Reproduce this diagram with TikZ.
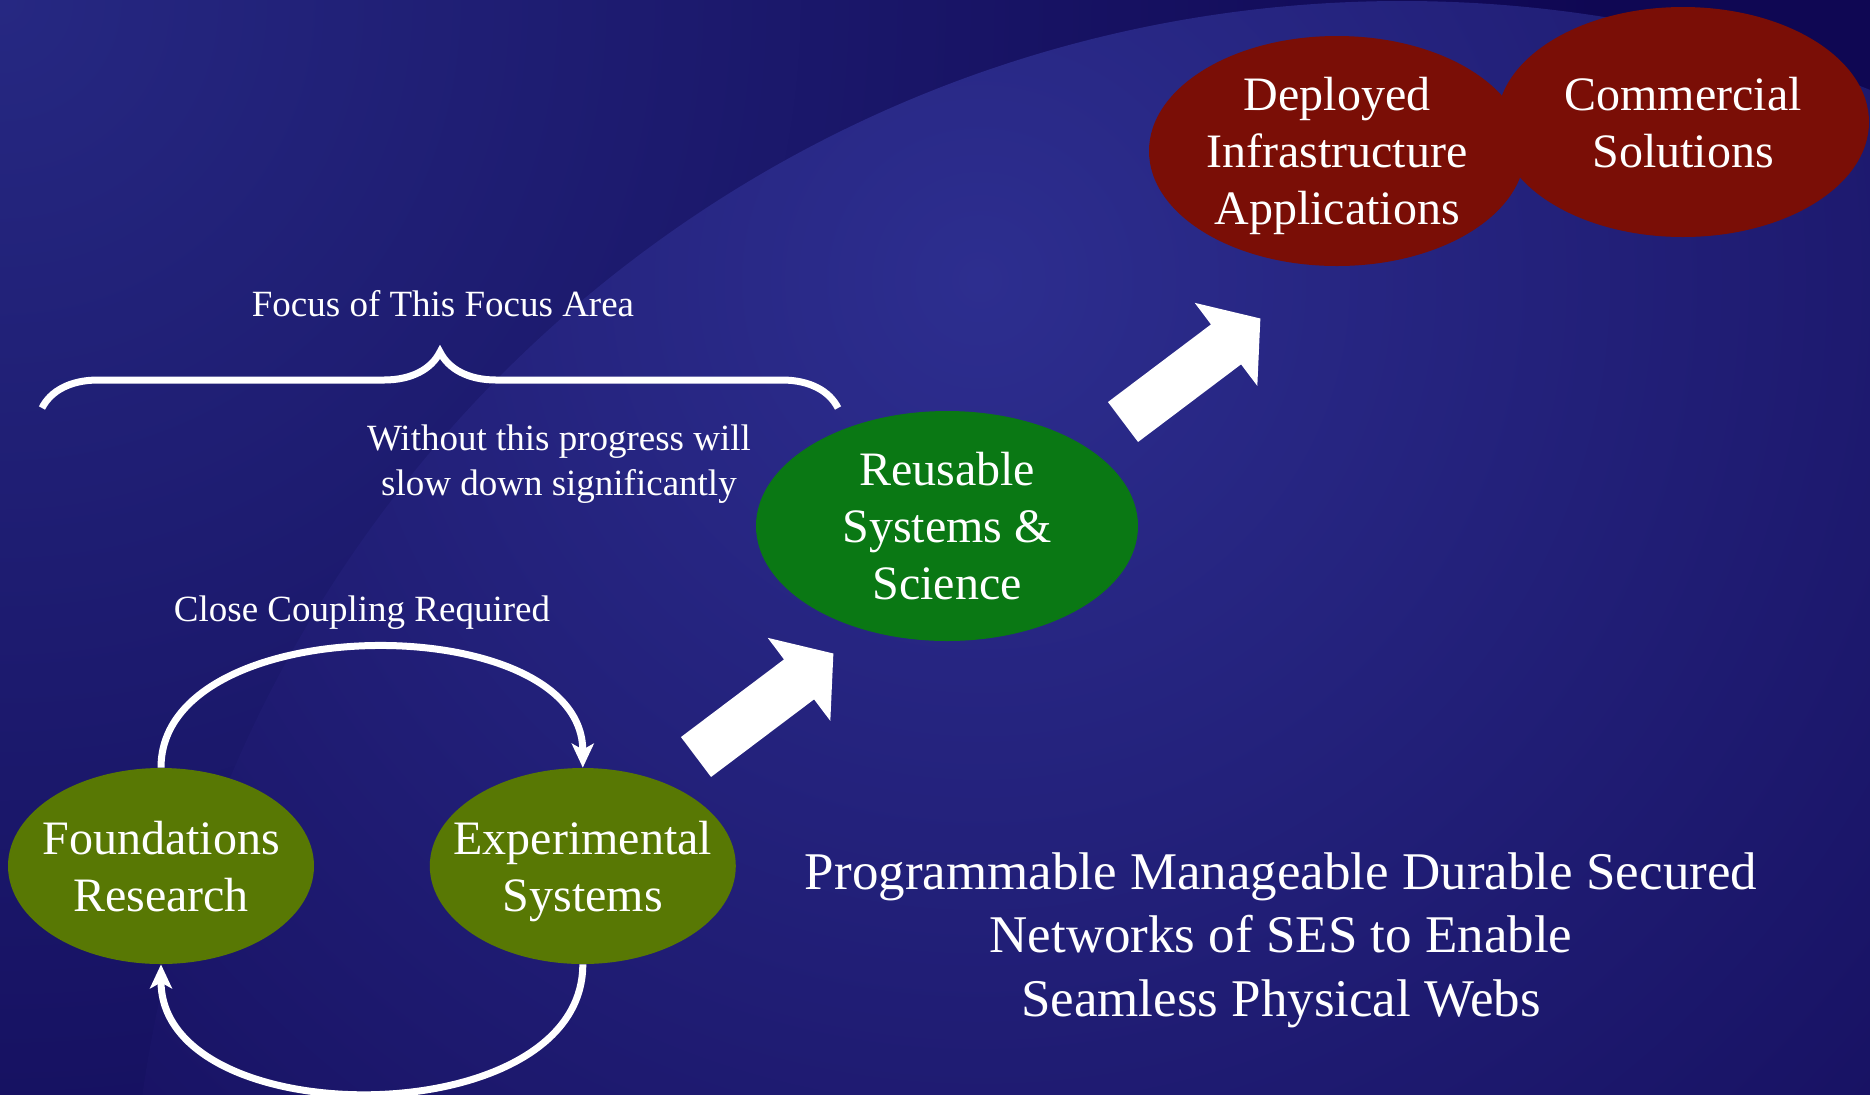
\documentclass[tikz,border=0pt]{standalone}
\usepackage{fontspec}
\setmainfont{Liberation Serif}
\usepackage{tikz}
\usetikzlibrary{decorations.pathreplacing}
\usetikzlibrary{positioning}
\usetikzlibrary{shapes.geometric}
\usetikzlibrary{arrows.meta}
\usetikzlibrary{calc}
\definecolor{bgdark}{RGB}{15,7,83}
\definecolor{bgcorner}{RGB}{38,40,130}
\definecolor{globelight}{RGB}{45,46,143}
\definecolor{globedark}{RGB}{16,8,84}
\definecolor{olivegreen}{RGB}{88,120,4}
\definecolor{leafgreen}{RGB}{10,120,20}
\definecolor{darkred}{RGB}{122,14,6}
\tikzstyle{loopline} = [draw=white, line width=3.5pt, -{Stealth[length=12pt, width=11pt, inset=3pt]}]

\begin{document}
\begin{tikzpicture}[x=0.5pt, y=-0.5pt,
				blob/.style={ellipse, inner xsep=-15pt, inner ysep=0pt, text depth=0pt, text=white, align=center, font=\fontsize{24}{28.5}\selectfont},
				smalltext/.style={text=white, align=center, inner sep=0pt, font=\fontsize{18.5}{22.5}\selectfont},
				goaltext/.style={text=white, align=center, inner sep=0pt, font=\fontsize{26.5}{31.75}\selectfont}]
				\useasboundingbox (0,0) rectangle (1870,1094);
				\clip (0,0) rectangle (1870,1094);
				
				% background and globe
				\fill[bgdark] (0,0) rectangle (1870,1094);
				\shade[inner color=bgcorner, outer color=bgdark] (0,0) circle (1600);
				\begin{scope}
					\clip (1402,1273) circle (1272);
					\shade[inner color=globelight, outer color=globedark] (980,280) circle (1650);
				\end{scope}
				
				\node[blob, fill=olivegreen, minimum width=153pt, minimum height=98pt](found) at (161, 866) {Foundations\\Research};
				\node[blob, fill=olivegreen, minimum width=153pt, minimum height=98pt, right=57.5pt of found](expt) {Experimental\\Systems};
				
				\node[blob, fill=leafgreen, minimum width=191pt, minimum height=115pt](reuse) at (947, 526) {Reusable\\Systems \&\\Science};
				
				\node[blob, fill=darkred, minimum width=188pt, minimum height=115pt](deploy) at (1337, 151) {Deployed\\Infrastructure\\Applications};
				\node[blob, fill=darkred, minimum width=186pt, minimum height=115pt](comm) at (1683, 122) {Commercial\\Solutions};
				
				\node[smalltext, anchor=base](focus) at (443, 316) {Focus of This Focus Area};
				\node[smalltext](slow) at (559, 464) {Without this progress will\\slow down significantly};
				\node[smalltext, anchor=base](close) at (362, 621) {Close Coupling Required};
				
				\node[goaltext](goal) at (1281, 940) {Programmable Manageable Durable Secured\\Networks of SES to Enable\\Seamless Physical Webs};
				
				\coordinate (braceL) at (42, 408);
				\coordinate (braceR) at (838, 408);
				\coordinate (lowtail) at (696, 757);
				\coordinate (hightail) at (1123, 422);
				
				\draw [white, line width=3.5pt, decorate, decoration={brace, amplitude=28pt}] (braceL) -- (braceR);
				
				\draw [loopline] (found.north) .. controls +(0,-160) and +(0,-160) .. (expt.north);
				\draw [loopline] (expt.south) .. controls +(0,171) and +(0,171) .. (found.south);
				
				\fill [white, shift={(lowtail)}, rotate=37] (0,25) -- (129,25) -- (129,52) -- (172,0) -- (129,-52) -- (129,-25) -- (0,-25) -- cycle;
				\fill [white, shift={(hightail)}, rotate=37] (0,25) -- (129,25) -- (129,52) -- (172,0) -- (129,-52) -- (129,-25) -- (0,-25) -- cycle;
				
			\end{tikzpicture}
\end{document}
